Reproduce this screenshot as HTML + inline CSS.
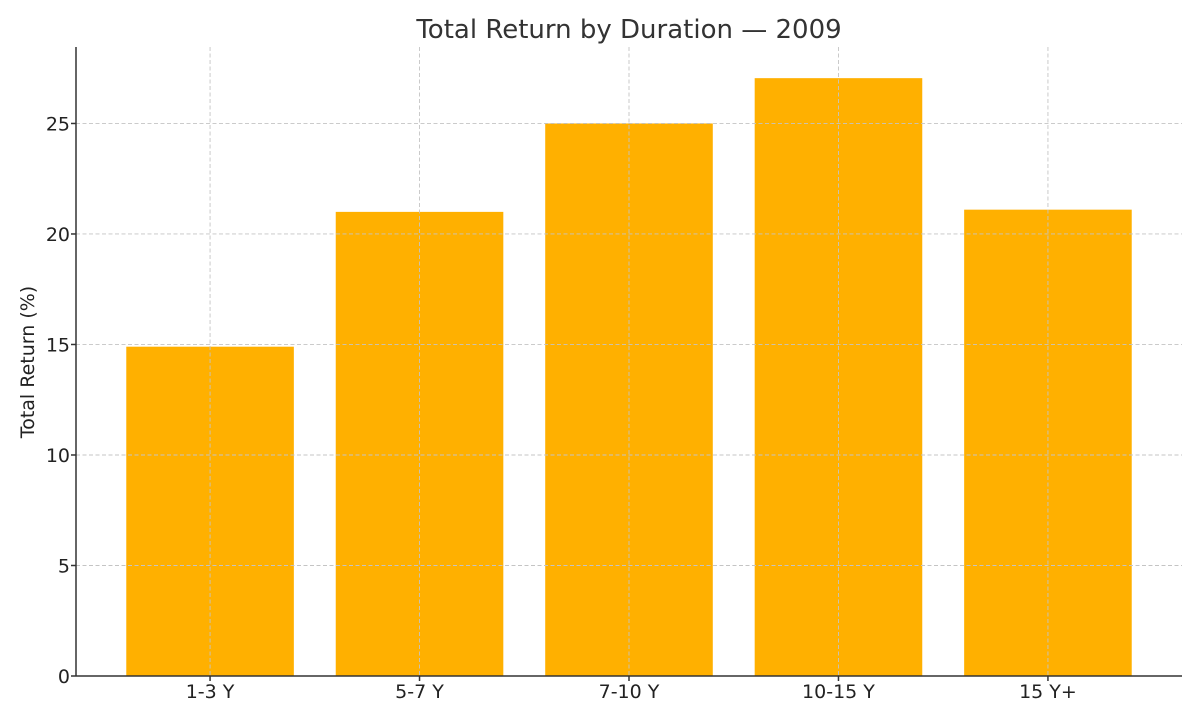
<!DOCTYPE html>
<html><head><meta charset="utf-8"><style>
body{margin:0;background:#fff;}
svg{display:block;font-family:"DejaVu Sans","Liberation Sans",sans-serif;}
</style></head><body>
<svg id="chart" width="1200" height="720"></svg>
<script>
const categories = ["1-3 Y","5-7 Y","7-10 Y","10-15 Y","15 Y+"];
const values = [14.9, 21.0, 25.0, 27.05, 21.1];
const yTicks = [0,5,10,15,20,25];
const NS="http://www.w3.org/2000/svg";
const svg=document.getElementById('chart');
const L=76,R=1182,T=47,B=676,yMax=28.46;
const band=(R-L)/(categories.length+0.28);
const x=i=>L+band*(i+0.64);
const y=v=>B-(v/yMax)*(B-T);
function el(tag,attrs,parent){const e=document.createElementNS(NS,tag);for(const k in attrs)e.setAttribute(k,attrs[k]);(parent||svg).appendChild(e);return e;}
const bars=el('g',{});


values.forEach((v,i)=>{
  const r=el('rect',{x:x(i)-band*0.4,y:y(v),width:band*0.8,height:B-y(v),fill:'#FFB000'},bars);
  
  
});
const grid=el('g',{stroke:'#c4c4c4','stroke-width':0.9,'stroke-dasharray':'4,2.5'});


yTicks.forEach(t=>{ if(t>0) el('line',{x1:L,x2:R,y1:y(t),y2:y(t)},grid); });
categories.forEach((c,i)=>el('line',{x1:x(i),x2:x(i),y1:T,y2:B},grid));
const axes=el('g',{stroke:'#333','stroke-width':1.5});


el('line',{x1:L,x2:L,y1:T,y2:B},axes);
el('line',{x1:L,x2:R,y1:B,y2:B},axes);
yTicks.forEach(t=>{
  el('line',{x1:L-5,x2:L,y1:y(t),y2:y(t)},axes);
  const tx=el('text',{x:L-6,y:y(t)+7,'text-anchor':'end','font-size':19,fill:'#222'});
  tx.textContent=t;
  
  
});
categories.forEach((c,i)=>{
  el('line',{x1:x(i),x2:x(i),y1:B,y2:B+5},axes);
  const tx=el('text',{x:x(i),y:B+22,'text-anchor':'middle','font-size':19,fill:'#222'});
  tx.textContent=c;
  
  
});
const title=el('text',{x:629,y:38,'text-anchor':'middle','font-size':26,fill:'#333'});
title.textContent='Total Return by Duration — 2009';


const yt=el('text',{x:0,y:0,'text-anchor':'middle','font-size':19,fill:'#222',transform:'translate(34,362) rotate(-90)'});
yt.textContent='Total Return (%)';


</script>
</body></html>
